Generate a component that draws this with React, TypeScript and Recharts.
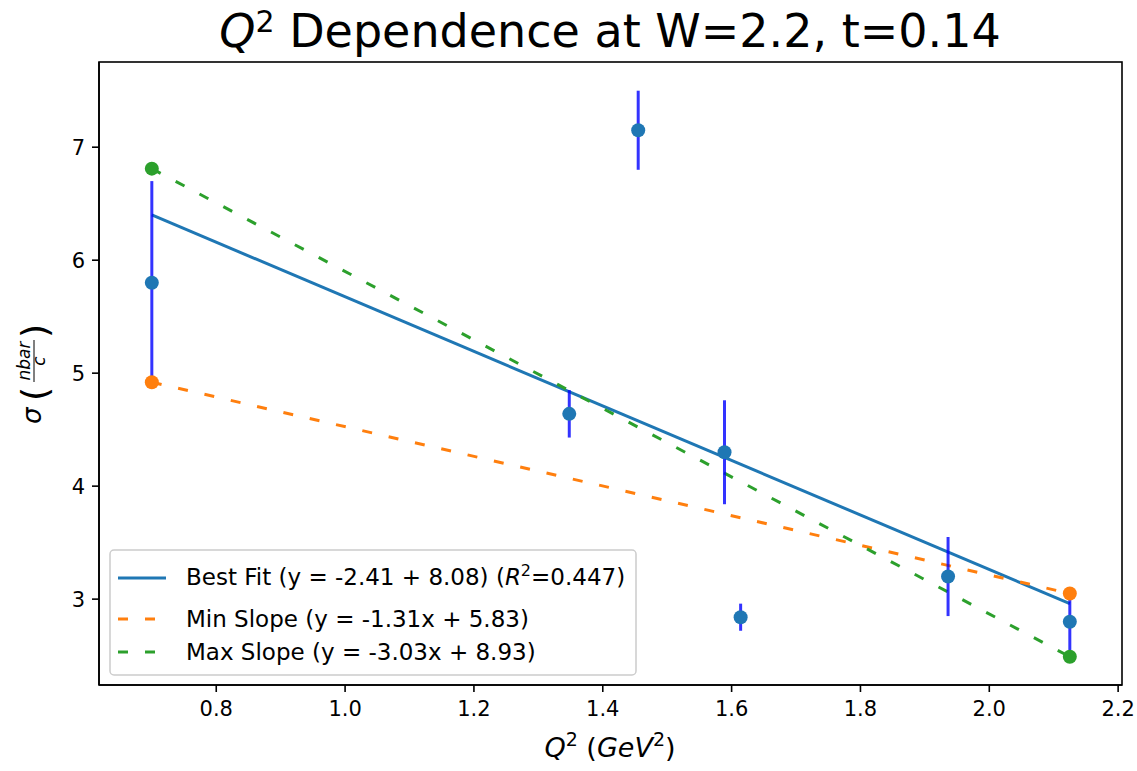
import { ComposedChart, Line, Scatter, ErrorBar, XAxis, YAxis, Customized } from "recharts";

// measured points (Q^2, sigma, error)
const q2Values = [0.7, 1.348, 1.455, 1.589, 1.614, 1.936, 2.125];
const sigmaValues = [5.8, 4.64, 7.15, 4.3, 2.84, 3.2, 2.8];
const sigmaErrors = [0.9, 0.21, 0.35, 0.46, 0.12, 0.35, 0.25];

// fit lines, read at both ends of the Q^2 range
const fitX = [0.7, 2.125];
const bestFitY = [6.4, 2.96];
const minSlopeY = [4.92, 3.05];
const maxSlopeY = [6.81, 2.49];

const xTicks = [0.8, 1.0, 1.2, 1.4, 1.6, 1.8, 2.0, 2.2];
const yTicks = [3, 4, 5, 6, 7];
const xDomain = [0.618, 2.206];
const yDomain = [2.24, 7.754];

const points = q2Values.map((x, i) => ({ x, y: sigmaValues[i], err: sigmaErrors[i] }));
const toLine = (ys: number[]) => fitX.map((x, i) => ({ x, y: ys[i] }));
const bestFit = toLine(bestFitY);
const minSlope = toLine(minSlopeY);
const maxSlope = toLine(maxSlopeY);

const FONT = "DejaVu Sans";
const BLUE = "#1f77b4";
const ORANGE = "#ff7f0e";
const GREEN = "#2ca02c";
const DASH = "10 17";

const Dot = (color: string) => (props: any) =>
  props.cx == null ? <g /> : <circle cx={props.cx} cy={props.cy} r={7} fill={color} />;

const Nothing = () => <g />;

const Decorations = () => (
  <g fontFamily={FONT} fill="#000" style={{ whiteSpace: "pre" }}>
    {/* axes frame */}
    <rect x={99} y={62} width={1023} height={623} fill="none" stroke="#000" strokeWidth={1.6} />

    {/* title */}
    <text x={610} y={47} textAnchor="middle" fontSize={46}>
      <tspan fontStyle="italic">Q</tspan>
      <tspan fontSize={30} dy={-15}>2</tspan>
      <tspan dy={15}> Dependence at W=2.2, t=0.14</tspan>
    </text>

    {/* x label */}
    <text x={610} y={757} textAnchor="middle" fontSize={27}>
      <tspan fontStyle="italic">Q</tspan>
      <tspan fontSize={19} dy={-11}>2</tspan>
      <tspan dy={11}> (</tspan>
      <tspan fontStyle="italic">GeV</tspan>
      <tspan fontSize={19} dy={-11}>2</tspan>
      <tspan dy={11}>)</tspan>
    </text>

    {/* y label */}
    <g transform="translate(41, 374) rotate(-90)">
      <text x={-50} y={0} fontSize={26} fontStyle="italic">σ</text>
      <text x={-27} y={6} fontSize={36}>(</text>
      <text x={13} y={-11} fontSize={17} fontStyle="italic" textAnchor="middle">nbar</text>
      <line x1={-8} x2={34} y1={-7} y2={-7} stroke="#000" strokeWidth={1} />
      <text x={13} y={4} fontSize={17} fontStyle="italic" textAnchor="middle">c</text>
      <text x={36} y={6} fontSize={36}>)</text>
    </g>

    {/* legend */}
    <rect x={110} y={550} width={526} height={125} rx={4} fill="#fff" fillOpacity={0.8} stroke="#cccccc" strokeWidth={1.5} />
    <line x1={118} x2={166} y1={578} y2={578} stroke={BLUE} strokeWidth={3} />
    <line x1={118} x2={166} y1={619} y2={619} stroke={ORANGE} strokeWidth={3} strokeDasharray={DASH} />
    <line x1={118} x2={166} y1={652} y2={652} stroke={GREEN} strokeWidth={3} strokeDasharray={DASH} />
    <text x={186} y={585} fontSize={23}>
      Best Fit (y = -2.41 + 8.08) (<tspan fontStyle="italic">R</tspan>
      <tspan fontSize={16} dy={-9}>2</tspan>
      <tspan dy={9}>=0.447)</tspan>
    </text>
    <text x={186} y={627} fontSize={23}>Min Slope (y = -1.31x + 5.83)</text>
    <text x={186} y={660} fontSize={23}>Max Slope (y = -3.03x + 8.93)</text>
  </g>
);

export default function App() {
  const tickStyle = { fontSize: 21, fontFamily: FONT, fill: "#000" };
  return (
    <div style={{ position: "absolute", left: 0, top: 0, background: "#fff" }}>
      <ComposedChart width={1137} height={771} margin={{ top: 62, right: 15, bottom: 0, left: 0 }}>
        <XAxis
          type="number"
          dataKey="x"
          domain={xDomain}
          ticks={xTicks}
          allowDataOverflow
          height={86}
          tickSize={7}
          tickMargin={9}
          tick={tickStyle}
          tickFormatter={(v) => v.toFixed(1)}
          stroke="#000"
          strokeWidth={1.6}
        />
        <YAxis
          type="number"
          dataKey="y"
          domain={yDomain}
          ticks={yTicks}
          allowDataOverflow
          width={99}
          tickSize={7}
          tickMargin={7}
          tick={tickStyle}
          stroke="#000"
          strokeWidth={1.6}
        />

        <Scatter data={points} dataKey="y" shape={Dot(BLUE)} isAnimationActive={false} />
        <Line data={bestFit} dataKey="y" stroke={BLUE} strokeWidth={3} dot={false} isAnimationActive={false} />
        <Line data={minSlope} dataKey="y" stroke={ORANGE} strokeWidth={3} strokeDasharray={DASH} dot={false} isAnimationActive={false} />
        <Line data={maxSlope} dataKey="y" stroke={GREEN} strokeWidth={3} strokeDasharray={DASH} dot={false} isAnimationActive={false} />
        <Scatter data={minSlope} dataKey="y" shape={Dot(ORANGE)} isAnimationActive={false} />
        <Scatter data={maxSlope} dataKey="y" shape={Dot(GREEN)} isAnimationActive={false} />
        <Scatter data={points} dataKey="y" shape={Nothing} isAnimationActive={false}>
          <ErrorBar dataKey="err" direction="y" width={0} stroke="blue" strokeOpacity={0.8} strokeWidth={3} isAnimationActive={false} />
        </Scatter>

        <Customized component={Decorations} />
      </ComposedChart>
    </div>
  );
}
